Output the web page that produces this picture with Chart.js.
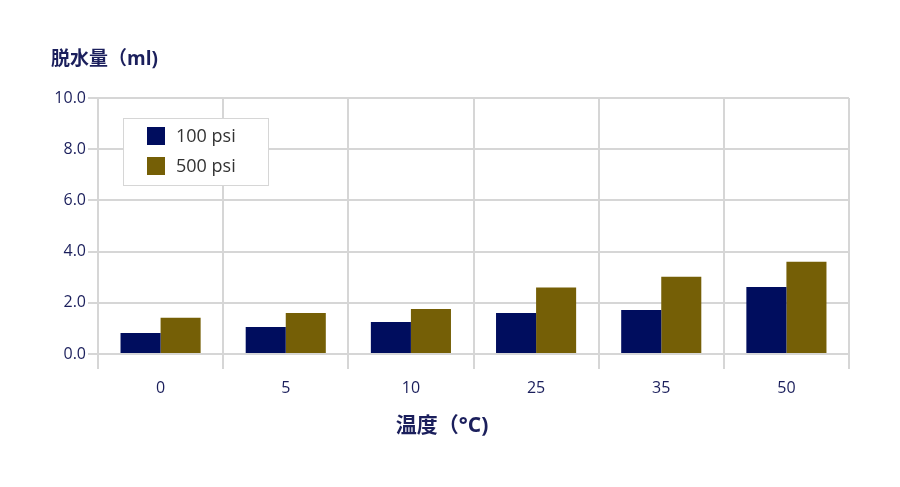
<!DOCTYPE html>
<html><head><meta charset="utf-8">
<script src="https://cdn.jsdelivr.net/npm/chart.js@4.4.0/dist/chart.umd.min.js"></script>
<style>html,body{margin:0;padding:0;background:#fff}#wrap{width:900px;height:487px}</style>
</head><body><div id="wrap"><canvas id="c"></canvas></div>
<script>
const categories = ['0', '5', '10', '25', '35', '50'];
const series100 = [0.82, 1.05, 1.25, 1.6, 1.72, 2.62];
const series500 = [1.42, 1.6, 1.76, 2.6, 3.02, 3.6];
const seriesLabels = ['100 psi', '500 psi'];
const yTitle = '脱水量（ml)';
const xTitle = '温度（°C)';

const NAVY = '#000d5e';
const GOLD = '#755f06';
const TEXT = '#1b1f5c';
const GRID = '#d6d6d6';
const FONT = '"Open Sans", "Noto Sans CJK JP", sans-serif';

const overlay = {
  id: 'overlay',
  afterDraw(chart) {
    const ctx = chart.ctx;
    ctx.save();
    ctx.fillStyle = TEXT;
    ctx.textBaseline = 'middle';
    ctx.font = 'bold 19px ' + FONT;
    ctx.textAlign = 'left';
    ctx.fillText(yTitle, 51, 60);
    ctx.font = 'bold 21px ' + FONT;
    ctx.textAlign = 'center';
    ctx.fillText(xTitle, 442, 426);
    // legend box
    ctx.fillStyle = '#ffffff';
    ctx.fillRect(123, 118, 145, 67);
    ctx.strokeStyle = '#d6d6d6';
    ctx.lineWidth = 1;
    ctx.strokeRect(123.5, 118.5, 145, 67);
    ctx.font = '18px ' + FONT;
    ctx.textAlign = 'left';
    chart.data.datasets.forEach((ds, i) => {
      const y = 127 + i * 30;
      ctx.fillStyle = ds.backgroundColor;
      ctx.fillRect(147, y, 18, 18);
      ctx.fillStyle = '#333333';
      ctx.fillText(ds.label, 176, y + 10);
    });
    ctx.restore();
  }
};

new Chart(document.getElementById('c'), {
  type: 'bar',
  data: {
    labels: categories,
    datasets: [
      { label: seriesLabels[0], data: series100, backgroundColor: NAVY },
      { label: seriesLabels[1], data: series500, backgroundColor: GOLD }
    ]
  },
  options: {
    responsive: true,
    maintainAspectRatio: false,
    animation: false,
    layout: { padding: { top: 98, right: 51, left: 0, bottom: 0 } },
    plugins: { legend: { display: false }, title: { display: false }, tooltip: { enabled: false } },
    datasets: { bar: { categoryPercentage: 0.64, barPercentage: 1.0 } },
    scales: {
      x: {
        offset: true,
        grid: { offset: true, color: GRID, lineWidth: 2, tickLength: 15, drawTicks: true },
        border: { display: false },
        ticks: { color: TEXT, font: { family: FONT, size: 16 }, padding: 10 },
        afterFit(s) { s.height = 133; }
      },
      y: {
        min: 0, max: 10,
        ticks: { stepSize: 2, color: TEXT, font: { family: FONT, size: 16 }, padding: 2,
          callback: v => Number(v).toFixed(1) },
        grid: { color: GRID, lineWidth: 2, tickLength: 10 },
        border: { display: false },
        afterFit(s) { s.width = 98; }
      }
    }
  },
  plugins: [overlay]
});
</script></body></html>
